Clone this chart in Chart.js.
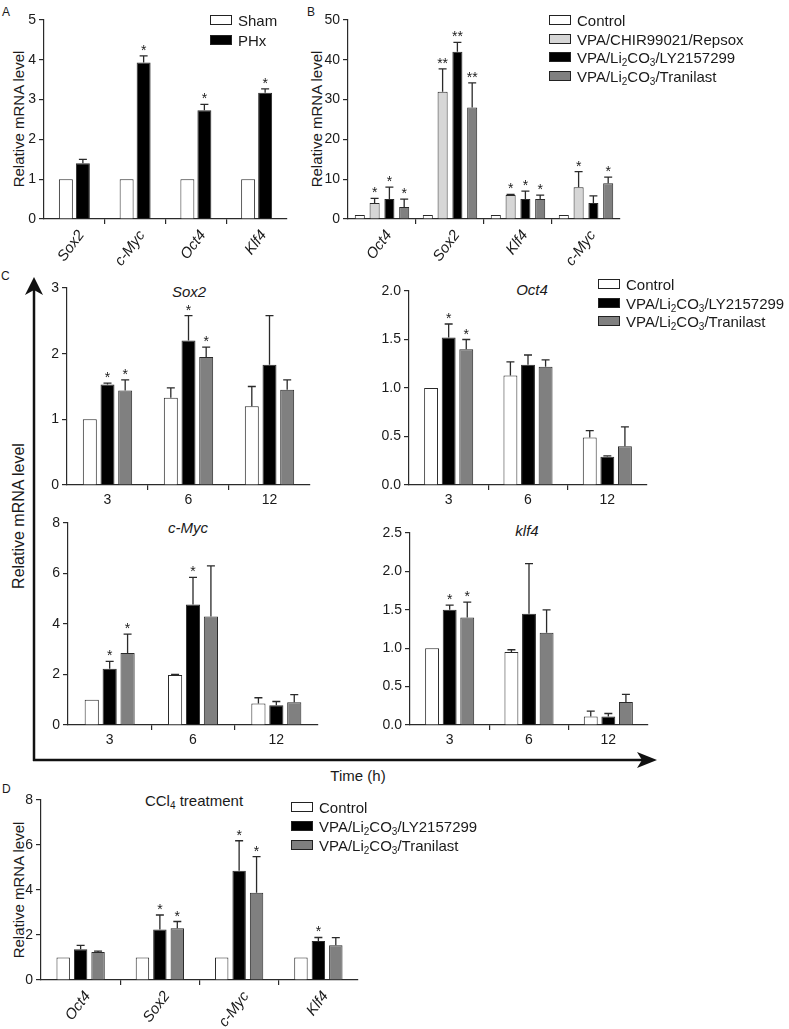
<!DOCTYPE html>
<html>
<head>
<meta charset="utf-8">
<script src="https://cdn.jsdelivr.net/npm/chart.js@4.4.1/dist/chart.umd.min.js"></script>
<style>
  body { margin: 0; background: #fff; font-family: "Liberation Sans", Arial, sans-serif; color: #1a1a1a; }
  #page { position: relative; width: 789px; height: 1029px; overflow: hidden; }
  canvas { position: absolute; }
  .t { position: absolute; white-space: nowrap; font-size: 15px; line-height: 1; }
  .c { transform: translate(-50%, -50%); }
  .v { transform: translate(-50%, -50%) rotate(-90deg); }
  .box { position: absolute; width: 20px; height: 8px; border: 1px solid #222; }
  sub { font-size: 10px; line-height: 0; vertical-align: -3px; }
</style>
</head>
<body>
<div id="page">
  <svg width="789" height="1029" style="position:absolute;left:0;top:0">
    <line x1="34" y1="761" x2="34" y2="288" stroke="#111" stroke-width="2.5"/>
    <polygon points="34,277 25,295 34,290 43,295" fill="#111"/>
    <line x1="33" y1="760" x2="645" y2="760" stroke="#111" stroke-width="2.5"/>
    <polygon points="657,760 637,752 642,760 637,768" fill="#111"/>
  </svg>

  <div class="t" style="left:2px;top:6px;font-size:12px">A</div>
  <div class="t" style="left:307px;top:6px;font-size:12px">B</div>
  <div class="t" style="left:1px;top:270px;font-size:12px">C</div>
  <div class="t" style="left:2px;top:783px;font-size:12px">D</div>

  <div class="t v" style="left:18px;top:119px">Relative mRNA level</div>
  <div class="t v" style="left:316px;top:119px">Relative mRNA level</div>
  <div class="t v" style="left:19px;top:516px;font-size:16px">Relative mRNA level</div>
  <div class="t v" style="left:18px;top:890px">Relative mRNA level</div>
  <div class="t c" style="left:358px;top:775px">Time (h)</div>

  <div class="t c" style="left:189px;top:291px;font-style:italic">Sox2</div>
  <div class="t c" style="left:532px;top:289px;font-style:italic">Oct4</div>
  <div class="t c" style="left:188px;top:527px;font-style:italic">c-Myc</div>
  <div class="t c" style="left:527px;top:530px;font-style:italic">klf4</div>
  <div class="t c" style="left:194px;top:800px">CCl<sub>4</sub> treatment</div>

  <canvas id="chartA"></canvas>
  <canvas id="chartB"></canvas>
  <canvas id="chartC1"></canvas>
  <canvas id="chartC2"></canvas>
  <canvas id="chartC3"></canvas>
  <canvas id="chartC4"></canvas>
  <canvas id="chartD"></canvas>
</div>

<script>
// ---- Panel A: sham vs partial hepatectomy ----
const aGenes = ['Sox2', 'c-Myc', 'Oct4', 'Klf4'];
const aSham = [1, 1, 1, 1];
const aPHx = [1.4, 3.93, 2.73, 3.17];
const aPHxErr = [0.1, 0.17, 0.15, 0.1];
const aPHxSig = ['', '*', '*', '*'];

// ---- Panel B: small molecule cocktails ----
const bGenes = ['Oct4', 'Sox2', 'Klf4', 'c-Myc'];
const bControl = [1, 1, 1, 1];
const bChir = [4, 32, 6, 8];
const bChirErr = [1.2, 5.7, 0.2, 3.9];
const bChirSig = ['*', '**', '*', '*'];
const bLy = [5, 42, 5, 4];
const bLyErr = [3, 2.4, 2, 1.8];
const bLySig = ['*', '**', '*', ''];
const bTran = [3, 28, 5, 9];
const bTranErr = [2, 6.2, 1, 1.5];
const bTranSig = ['*', '**', '*', '*'];

// ---- Panel C: time course (h) ----
const cHours = ['3', '6', '12'];

const cSox2Control = [1, 1.33, 1.2];
const cSox2ControlErr = [0, 0.15, 0.3];
const cSox2Ly = [1.53, 2.2, 1.83];
const cSox2LyErr = [0.02, 0.38, 0.75];
const cSox2LySig = ['*', '*', ''];
const cSox2Tran = [1.44, 1.95, 1.45];
const cSox2TranErr = [0.16, 0.15, 0.15];
const cSox2TranSig = ['*', '*', ''];

const cOct4Control = [1, 1.13, 0.49];
const cOct4ControlErr = [0, 0.14, 0.07];
const cOct4Ly = [1.52, 1.24, 0.29];
const cOct4LyErr = [0.14, 0.1, 0.01];
const cOct4LySig = ['*', '', ''];
const cOct4Tran = [1.4, 1.22, 0.4];
const cOct4TranErr = [0.1, 0.07, 0.2];
const cOct4TranSig = ['*', '', ''];

const cMycControl = [1, 1.98, 0.85];
const cMycControlErr = [0, 0.02, 0.23];
const cMycLy = [2.23, 4.77, 0.78];
const cMycLyErr = [0.29, 1.08, 0.15];
const cMycLySig = ['*', '*', ''];
const cMycTran = [2.85, 4.3, 0.9];
const cMycTranErr = [0.75, 2.0, 0.3];
const cMycTranSig = ['*', '', ''];

const cKlf4Control = [1, 0.95, 0.11];
const cKlf4ControlErr = [0, 0.03, 0.07];
const cKlf4Ly = [1.5, 1.45, 0.11];
const cKlf4LyErr = [0.06, 0.65, 0.04];
const cKlf4LySig = ['*', '', ''];
const cKlf4Tran = [1.4, 1.2, 0.3];
const cKlf4TranErr = [0.2, 0.3, 0.1];
const cKlf4TranSig = ['*', '', ''];

// ---- Panel D: CCl4 treatment ----
const dGenes = ['Oct4', 'Sox2', 'c-Myc', 'Klf4'];
const dControl = [1, 1, 1, 1];
const dLy = [1.37, 2.24, 4.86, 1.73];
const dLyErr = [0.17, 0.65, 1.33, 0.16];
const dLySig = ['', '*', '*', '*'];
const dTran = [1.24, 2.3, 3.88, 1.54];
const dTranErr = [0.04, 0.3, 1.6, 0.34];
const dTranSig = ['', '*', '*', ''];

const WHITE = '#ffffff', LIGHT = '#d6d6d6', BLACK = '#000000', GREY = '#808080';
const AXIS = '#2a2a2a';
const FONT = '"Liberation Sans", Arial, sans-serif';

Chart.defaults.font.family = FONT;
Chart.defaults.color = '#1a1a1a';

// upper error bars and significance stars
const errorBars = {
    id: 'errorBars',
    afterDatasetsDraw(chart) {
        const ctx = chart.ctx;
        const y = chart.scales.y;
        ctx.save();
        ctx.strokeStyle = AXIS;
        ctx.lineWidth = 1.3;
        ctx.fillStyle = '#1a1a1a';
        ctx.font = '14px ' + FONT;
        ctx.textAlign = 'center';
        chart.data.datasets.forEach((ds, i) => {
            chart.getDatasetMeta(i).data.forEach((bar, j) => {
                const e = ds.err ? ds.err[j] : 0;
                const top = y.getPixelForValue(ds.data[j] + e);
                if (e > 0) {
                    ctx.beginPath();
                    ctx.moveTo(bar.x, bar.y);
                    ctx.lineTo(bar.x, top);
                    ctx.moveTo(bar.x - 4, top);
                    ctx.lineTo(bar.x + 4, top);
                    ctx.stroke();
                }
                const s = ds.sig ? ds.sig[j] : '';
                if (s) ctx.fillText(s, bar.x, top - 1);
            });
        });
        ctx.restore();
    }
};

// area = [left, top, right, bottom] of the plot box in page pixels
function makeBars(id, area, cfg) {
    const yW = 42, padT = 14, padR = 8;
    const xH = cfg.rot ? 50 : 25;
    const cv = document.getElementById(id);
    const w = area[2] - area[0] + yW + padR;
    const h = area[3] - area[1] + padT + xH;
    cv.width = w;
    cv.height = h;
    cv.style.left = (area[0] - yW) + 'px';
    cv.style.top = (area[1] - padT) + 'px';

    return new Chart(cv, {
        type: 'bar',
        data: {
            labels: cfg.labels,
            datasets: cfg.series.map(s => ({
                data: s.data,
                err: s.err,
                sig: s.sig,
                backgroundColor: s.color,
                borderColor: AXIS,
                borderWidth: 1,
                categoryPercentage: cfg.cat,
                barPercentage: cfg.bar
            }))
        },
        options: {
            responsive: false,
            animation: false,
            layout: { padding: { top: padT, right: padR, left: 0, bottom: 0 } },
            plugins: { legend: { display: false }, tooltip: { enabled: false } },
            scales: {
                x: {
                    offset: true,
                    grid: {
                        offset: true,
                        drawOnChartArea: false,
                        tickLength: 5,
                        lineWidth: 1.2,
                        color: c => c.index > 0 ? AXIS : 'rgba(0,0,0,0)'
                    },
                    border: { color: AXIS, width: 1.2 },
                    ticks: {
                        autoSkip: false,
                        maxRotation: cfg.rot || 0,
                        minRotation: cfg.rot || 0,
                        labelOffset: cfg.rot ? 7 : 0,
                        padding: cfg.rot ? 3 : 2,
                        color: '#1a1a1a',
                        font: { size: cfg.rot ? 15 : 14, style: cfg.rot ? 'italic' : 'normal' }
                    },
                    afterFit: s => { s.height = xH; }
                },
                y: {
                    min: 0,
                    max: cfg.max,
                    grid: { drawOnChartArea: false, tickLength: 5, lineWidth: 1.2, color: AXIS },
                    border: { color: AXIS, width: 1.2 },
                    ticks: {
                        stepSize: cfg.step,
                        padding: 3,
                        color: '#1a1a1a',
                        font: { size: 14 },
                        callback: v => cfg.dec ? v.toFixed(cfg.dec) : v
                    },
                    afterFit: s => { s.width = yW; }
                }
            }
        },
        plugins: [errorBars]
    });
}

makeBars('chartA', [44, 20, 287, 219], {
    labels: aGenes, max: 5, step: 1, rot: 53, cat: 0.56, bar: 0.82,
    series: [
        { data: aSham, color: WHITE },
        { data: aPHx, err: aPHxErr, sig: aPHxSig, color: BLACK }
    ]
});

makeBars('chartB', [348, 20, 620, 219], {
    labels: bGenes, max: 50, step: 10, rot: 53, cat: 0.87, bar: 0.68,
    series: [
        { data: bControl, color: WHITE },
        { data: bChir, err: bChirErr, sig: bChirSig, color: LIGHT },
        { data: bLy, err: bLyErr, sig: bLySig, color: BLACK },
        { data: bTran, err: bTranErr, sig: bTranSig, color: GREY }
    ]
});

function timeSeries(ctrl, ctrlErr, ly, lyErr, lySig, tran, tranErr, tranSig) {
    return [
        { data: ctrl, err: ctrlErr, color: WHITE },
        { data: ly, err: lyErr, sig: lySig, color: BLACK },
        { data: tran, err: tranErr, sig: tranSig, color: GREY }
    ];
}

makeBars('chartC1', [67, 288, 310, 485], {
    labels: cHours, max: 3, step: 1, cat: 0.655, bar: 0.79,
    series: timeSeries(cSox2Control, cSox2ControlErr, cSox2Ly, cSox2LyErr, cSox2LySig, cSox2Tran, cSox2TranErr, cSox2TranSig)
});

makeBars('chartC2', [409, 291, 647, 485], {
    labels: cHours, max: 2, step: 0.5, dec: 1, cat: 0.665, bar: 0.79,
    series: timeSeries(cOct4Control, cOct4ControlErr, cOct4Ly, cOct4LyErr, cOct4LySig, cOct4Tran, cOct4TranErr, cOct4TranSig)
});

makeBars('chartC3', [68, 523, 318, 725], {
    labels: cHours, max: 8, step: 2, cat: 0.645, bar: 0.79,
    series: timeSeries(cMycControl, cMycControlErr, cMycLy, cMycLyErr, cMycLySig, cMycTran, cMycTranErr, cMycTranSig)
});

makeBars('chartC4', [410, 533, 648, 725], {
    labels: cHours, max: 2.5, step: 0.5, dec: 1, cat: 0.665, bar: 0.79,
    series: timeSeries(cKlf4Control, cKlf4ControlErr, cKlf4Ly, cKlf4LyErr, cKlf4LySig, cKlf4Tran, cKlf4TranErr, cKlf4TranSig)
});

makeBars('chartD', [41, 800, 358, 980], {
    labels: dGenes, max: 8, step: 2, rot: 53, cat: 0.66, bar: 0.77,
    series: [
        { data: dControl, color: WHITE },
        { data: dLy, err: dLyErr, sig: dLySig, color: BLACK },
        { data: dTran, err: dTranErr, sig: dTranSig, color: GREY }
    ]
});

// legends
const page = document.getElementById('page');
function addLegend(left, firstY, dy, items) {
    items.forEach((it, i) => {
        const cy = firstY + i * dy;
        const b = document.createElement('div');
        b.className = 'box';
        b.style.left = left + 'px';
        b.style.top = (cy - 5) + 'px';
        b.style.background = it.color;
        page.appendChild(b);
        const t = document.createElement('div');
        t.className = 't';
        t.style.left = (left + 28) + 'px';
        t.style.top = cy + 'px';
        t.style.transform = 'translateY(-50%)';
        t.innerHTML = it.name;
        page.appendChild(t);
    });
}
const LY_NAME = 'VPA/Li<sub>2</sub>CO<sub>3</sub>/LY2157299';
const TRAN_NAME = 'VPA/Li<sub>2</sub>CO<sub>3</sub>/Tranilast';

addLegend(210, 20, 20, [{ name: 'Sham', color: WHITE }, { name: 'PHx', color: BLACK }]);
addLegend(549, 20, 18.7, [
    { name: 'Control', color: WHITE },
    { name: 'VPA/CHIR99021/Repsox', color: LIGHT },
    { name: LY_NAME, color: BLACK },
    { name: TRAN_NAME, color: GREY }
]);
addLegend(598, 284, 18.5, [
    { name: 'Control', color: WHITE },
    { name: LY_NAME, color: BLACK },
    { name: TRAN_NAME, color: GREY }
]);
addLegend(291, 807, 19, [
    { name: 'Control', color: WHITE },
    { name: LY_NAME, color: BLACK },
    { name: TRAN_NAME, color: GREY }
]);
</script>
</body>
</html>
